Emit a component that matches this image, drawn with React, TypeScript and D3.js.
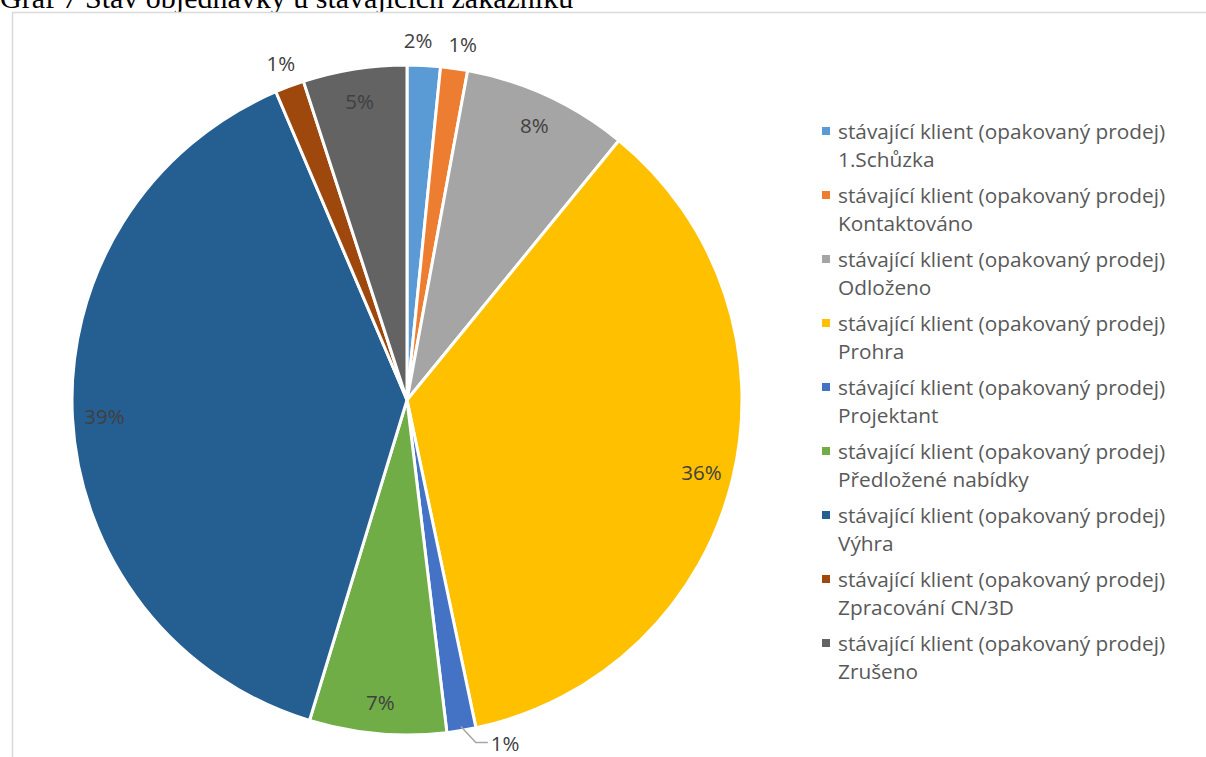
import React from "react";
import * as d3 from "d3";

const title = "Graf 7 Stav objednávky u stávajících zákazníků";
const seriesPrefix = "stávající klient (opakovaný prodej)";
const categories = [
  "1.Schůzka",
  "Kontaktováno",
  "Odloženo",
  "Prohra",
  "Projektant",
  "Předložené nabídky",
  "Výhra",
  "Zpracování CN/3D",
  "Zrušeno",
];
const values = [1.6, 1.3, 8.0, 35.8, 1.4, 6.6, 38.9, 1.4, 5.0];
const colors = [
  "#5B9BD5",
  "#ED7D31",
  "#A5A5A5",
  "#FFC000",
  "#4472C4",
  "#70AD47",
  "#255E91",
  "#9E480E",
  "#636363",
];
// label placement: inside or outside
const outside = [true, true, false, false, true, false, false, true, false];

export default function App() {
  const W = 1206;
  const H = 757;
  const cx = 407;
  const cy = 400;
  const r = 335;
  const total = d3.sum(values);
  const pie = d3.pie<number>().sort(null).value((d) => d)(values);
  const arc = d3.arc<d3.PieArcDatum<number>>().innerRadius(0).outerRadius(r);
  const font = "'Open Sans', Lato, sans-serif";
  const labelSize = 20.5;
  const legendSize = 20.8;
  const pt = (a: number, rad: number) => [
    cx + rad * Math.sin(a),
    cy - rad * Math.cos(a),
  ];

  return (
    <svg
      width={W}
      height={H}
      style={{ position: "absolute", left: 0, top: 0, background: "#fff" }}
    >
      <text
        x={0}
        y={8}
        fontFamily="'Liberation Serif', 'Times New Roman', serif"
        fontSize={30}
        fill="#000"
      >
        {title}
      </text>
      <rect
        x={12.5}
        y={12.5}
        width={W + 20}
        height={H + 20}
        fill="#fff"
        stroke="#d9d9d9"
        strokeWidth={1.5}
      />
      <g transform={`translate(${cx},${cy})`}>
        {pie.map((d, i) => (
          <path
            key={i}
            d={arc(d) || ""}
            fill={colors[i]}
            stroke="#fff"
            strokeWidth={3}
            strokeLinejoin="round"
          />
        ))}
      </g>
      {pie.map((d, i) => {
        const mid = (d.startAngle + d.endAngle) / 2;
        const label = `${Math.round((values[i] / total) * 100)}%`;
        if (!outside[i]) {
          const [x, y] = pt(mid, 303);
          return (
            <text
              key={i}
              x={x}
              y={y}
              textAnchor="middle"
              dominantBaseline="central"
              fontFamily={font}
              fontSize={labelSize}
              fill="#404040"
            >
              {label}
            </text>
          );
        }
        if (i === 4) {
          const [sx, sy] = pt(mid, r - 4);
          const ex = sx + 15;
          const ey = sy + 16;
          return (
            <g key={i}>
              <polyline
                points={`${sx},${sy} ${ex},${ey} ${ex + 12},${ey}`}
                fill="none"
                stroke="#a6a6a6"
                strokeWidth={1.5}
              />
              <text
                x={ex + 15}
                y={ey}
                dominantBaseline="central"
                fontFamily={font}
                fontSize={labelSize}
                fill="#404040"
              >
                {label}
              </text>
            </g>
          );
        }
        let [x, y] = pt(mid, 360);
        if (i === 0) x -= 7;
        if (i === 1) x += 5;
        return (
          <text
            key={i}
            x={x}
            y={y}
            textAnchor="middle"
            dominantBaseline="central"
            fontFamily={font}
            fontSize={labelSize}
            fill="#404040"
          >
            {label}
          </text>
        );
      })}
      {categories.map((c, i) => {
        const y0 = 131 + i * 64;
        return (
          <g key={c}>
            <rect x={822} y={y0 - 4} width={8} height={8} fill={colors[i]} />
            <text
              x={838}
              y={y0}
              dominantBaseline="central"
              fontFamily={font}
              fontSize={legendSize}
              fill="#595959"
            >
              {seriesPrefix}
            </text>
            <text
              x={838}
              y={y0 + 28}
              dominantBaseline="central"
              fontFamily={font}
              fontSize={legendSize}
              fill="#595959"
            >
              {c}
            </text>
          </g>
        );
      })}
    </svg>
  );
}
